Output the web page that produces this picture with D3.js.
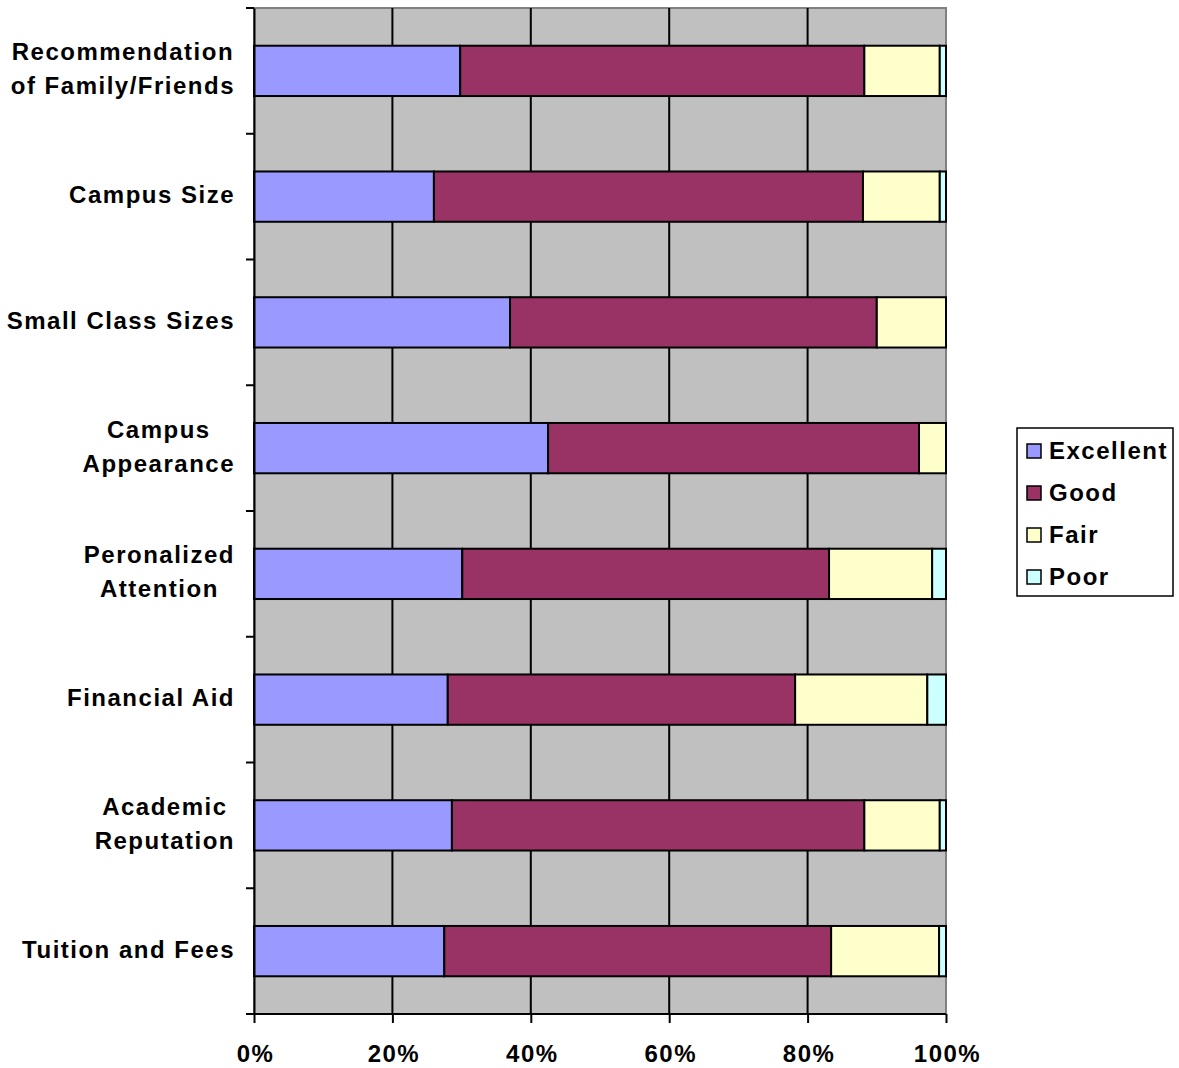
<!DOCTYPE html>
<html>
<head>
<meta charset="utf-8">
<script src="https://cdn.jsdelivr.net/npm/d3@7"></script>
<style>
  body { margin: 0; background: #fff; }
  text { font-family: "Liberation Sans", Arial, sans-serif; font-weight: bold; letter-spacing: 1.5px; }
</style>
</head>
<body>
<svg></svg>
<script>
// categories top to bottom, each label split into lines
var categories = [
  ["Recommendation", "of Family/Friends"],
  ["Campus Size"],
  ["Small Class Sizes"],
  ["Campus", "Appearance"],
  ["Peronalized", "Attention"],
  ["Financial Aid"],
  ["Academic", "Reputation"],
  ["Tuition and Fees"]
]
var seriesNames = ["Excellent", "Good", "Fair", "Poor"]
var excellent = [29.8, 26.0, 37.0, 42.5, 30.1, 28.0, 28.6, 27.5]
var good      = [58.4, 62.0, 53.0, 53.6, 53.0, 50.2, 59.6, 55.9]
var fair      = [10.9, 11.1, 10.0,  3.9, 14.9, 19.1, 10.9, 15.6]
var poor      = [ 0.9,  0.9,  0.0,  0.0,  2.0,  2.7,  0.9,  1.0]
var tickLabels = ["0%", "20%", "40%", "60%", "80%", "100%"]

var colors = ["#9999FF", "#993366", "#FFFFCC", "#CCFFFF"]

var width = 1179, height = 1068
var plotLeft = 254, plotRight = 946, plotTop = 8, plotBottom = 1014
var fontSize = '24px'

var svg = d3.select('svg')
            .attr('width', width)
            .attr('height', height)

// build table for stack
var table = categories.map(function(c, i) {
  return {idx: i, Excellent: excellent[i], Good: good[i], Fair: fair[i], Poor: poor[i]}
})

var x = d3.scaleLinear().domain([0, 1]).range([plotLeft, plotRight])
var yOuter = d3.scaleBand().domain(d3.range(categories.length)).range([plotTop, plotBottom])
var y = d3.scaleBand()
          .domain(d3.range(categories.length))
          .range([plotTop, plotBottom])
          .paddingInner(0.6)
          .paddingOuter(0.3)

// plot background
svg.append('rect')
  .attr('x', plotLeft).attr('y', plotTop)
  .attr('width', plotRight - plotLeft).attr('height', plotBottom - plotTop)
  .attr('fill', '#C0C0C0')
  .attr('stroke', '#808080')
  .attr('stroke-width', 2)

// gridlines
svg.append('g')
  .selectAll('line')
  .data([0.2, 0.4, 0.6, 0.8])
  .enter().append('line')
  .attr('x1', d => x(d)).attr('x2', d => x(d))
  .attr('y1', plotTop).attr('y2', plotBottom)
  .attr('stroke', '#000').attr('stroke-width', 2)

var stacked = d3.stack().keys(seriesNames)(table)

svg.append('g')
  .selectAll('g')
  .data(stacked)
  .enter().append('g')
  .attr('fill', (d, i) => colors[i])
  .selectAll('rect')
  .data(d => d.filter(p => p[1] - p[0] > 0))
  .enter().append('rect')
  .attr('x', d => x(d[0] / 100))
  .attr('width', d => x(d[1] / 100) - x(d[0] / 100))
  .attr('y', d => y(d.data.idx))
  .attr('height', y.bandwidth())
  .attr('stroke', '#000')
  .attr('stroke-width', 2)

// axes
var xAxis = svg.append('g')
  .attr('transform', `translate(0, ${plotBottom})`)
  .call(d3.axisBottom(x).tickValues([0, 0.2, 0.4, 0.6, 0.8, 1]).tickSize(9).tickSizeOuter(0).tickFormat((d, i) => tickLabels[i]))
xAxis.select('.domain').attr('stroke-width', 2).attr('d', `M${plotLeft - 8},0H${plotRight}`)
xAxis.selectAll('.tick line').attr('stroke-width', 2)
xAxis.selectAll('.tick text')
  .attr('dy', 0).attr('y', 48).attr('x', 1)
  .style('font-size', fontSize).attr('fill', '#000')

var yAxis = svg.append('g')
  .attr('transform', `translate(${plotLeft}, 0)`)
  .call(d3.axisLeft(yOuter).tickValues([]).tickSizeOuter(0))
yAxis.select('.domain').attr('stroke-width', 2)

// category boundary ticks
svg.append('g')
  .selectAll('line')
  .data(d3.range(categories.length + 1))
  .enter().append('line')
  .attr('x1', plotLeft - 8).attr('x2', plotLeft)
  .attr('y1', d => plotTop + d * yOuter.step()).attr('y2', d => plotTop + d * yOuter.step())
  .attr('stroke', '#000').attr('stroke-width', 2)

// category labels, lines centered on each other, block right aligned
var labels = svg.append('g')
  .selectAll('text')
  .data(categories)
  .enter().append('text')
  .style('font-size', fontSize)
  .attr('fill', '#000')
  .attr('text-anchor', 'middle')

labels.each(function(lines, i) {
  var t = d3.select(this)
  var cy = y(i) + y.bandwidth() / 2 - 2
  var lh = 34
  lines.forEach(function(line, j) {
    t.append('tspan')
      .attr('x', 0)
      .attr('y', cy + (j - (lines.length - 1) / 2) * lh)
      .attr('dy', '0.35em')
      .text(line)
  })
  var bb = this.getBBox()
  t.selectAll('tspan').attr('x', 235 - bb.width / 2)
})

// legend
var legend = svg.append('g').attr('transform', 'translate(1017, 428)')
legend.append('rect')
  .attr('width', 156).attr('height', 168)
  .attr('fill', '#fff').attr('stroke', '#000').attr('stroke-width', 1.5)

var items = legend.selectAll('g')
  .data(seriesNames)
  .enter().append('g')
  .attr('transform', (d, i) => `translate(0, ${23 + i * 42})`)
items.append('rect')
  .attr('x', 10).attr('y', -7)
  .attr('width', 14).attr('height', 14)
  .attr('fill', (d, i) => colors[i])
  .attr('stroke', '#000').attr('stroke-width', 1.5)
items.append('text')
  .attr('x', 32).attr('dy', '0.35em')
  .style('font-size', fontSize)
  .text(d => d)
</script>
</body>
</html>
